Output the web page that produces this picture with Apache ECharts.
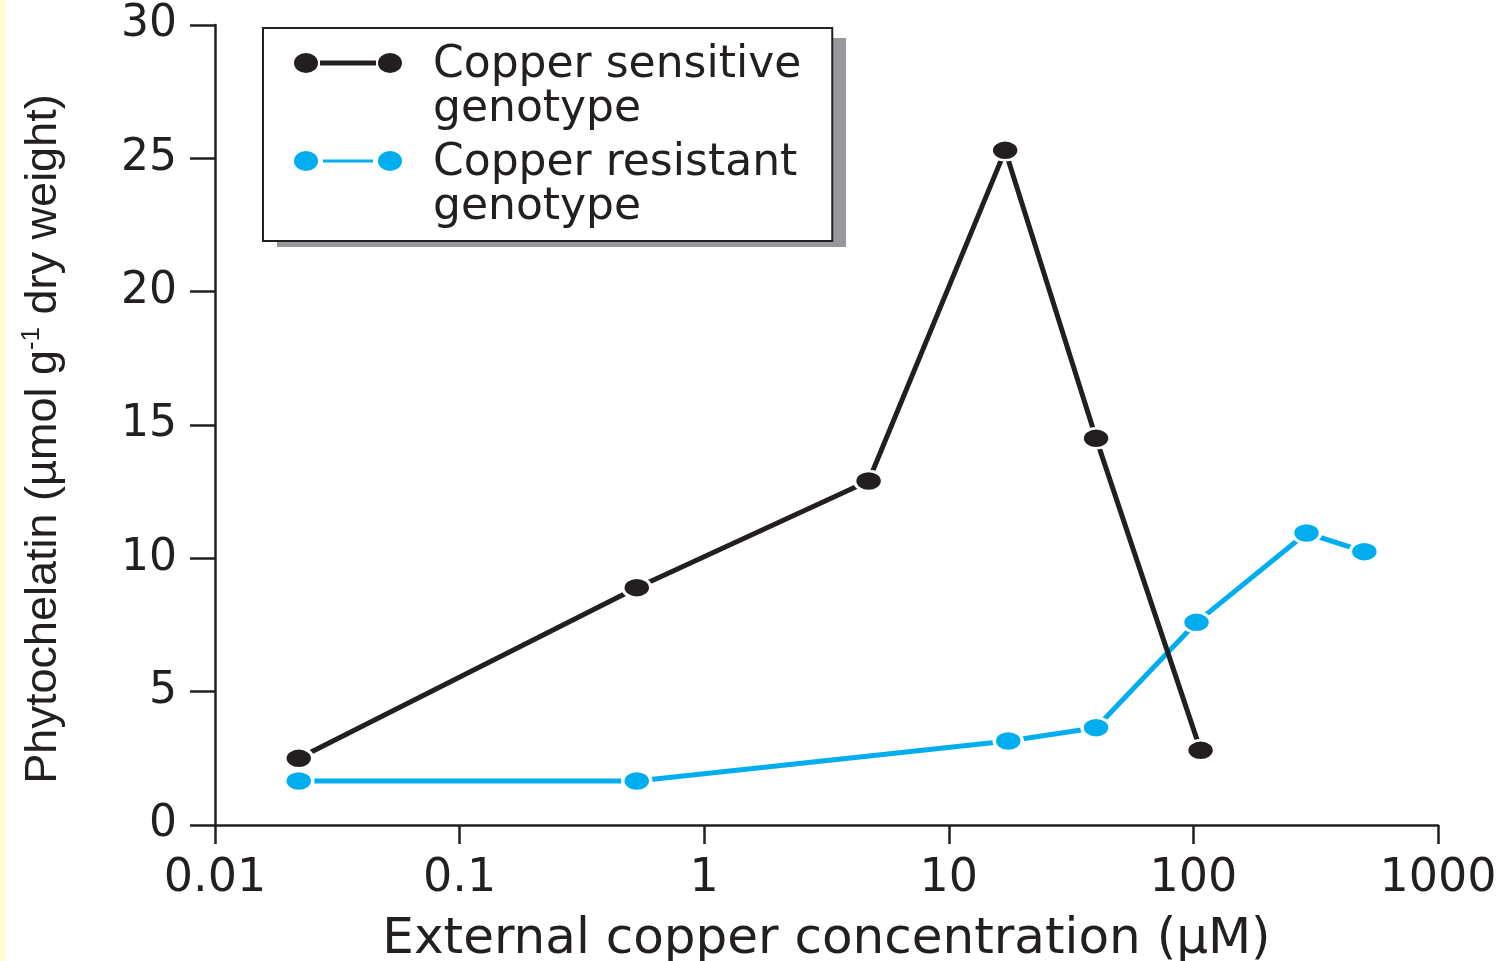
<!DOCTYPE html>
<html>
<head>
<meta charset="utf-8">
<script src="https://cdn.jsdelivr.net/npm/echarts@6/dist/echarts.min.js"></script>
<style>
  html, body { margin: 0; padding: 0; background: #ffffff; }
  #chart { position: absolute; left: 0; top: 0; width: 1507px; height: 961px; }
  #edge { position: absolute; left: 0; top: 0; width: 5px; height: 961px; background: #fdfdd0; z-index: 2; }
</style>
</head>
<body>
<div id="chart"></div>
<div id="edge"></div>
<script>
// External copper concentration (µM) and phytochelatin content (µmol g-1 dry weight)
const sensitiveConc = [0.022, 0.53, 4.7, 17, 40, 107];
const sensitivePC   = [2.5, 8.9, 12.9, 25.3, 14.5, 2.8];
const resistantConc = [0.022, 0.53, 17.5, 40, 103, 290, 500];
const resistantPC   = [1.65, 1.65, 3.15, 3.65, 7.6, 10.95, 10.25];

const seriesNames = ['Copper sensitive genotype', 'Copper resistant genotype'];
const xTickLabels = ['0.01', '0.1', '1', '10', '100', '1000'];

const INK = '#231f20';
const CYAN = '#00aeef';

// Legend glyph: dot - bar - dot on the first text line, padded so the label sits after it.
function legendGlyph(bar, gap) {
  const cy = 19;
  const top = cy - bar / 2, bottom = cy + bar / 2;
  return 'path://M0,0 L0.01,0 Z ' +
    'M0,' + cy + ' A13,11 0 1,0 26,' + cy + ' A13,11 0 1,0 0,' + cy + ' Z ' +
    'M84,' + cy + ' A13,11 0 1,0 110,' + cy + ' A13,11 0 1,0 84,' + cy + ' Z ' +
    'M' + (26 + gap) + ',' + top + ' L' + (84 - gap) + ',' + top + ' L' + (84 - gap) + ',' + bottom +
    ' L' + (26 + gap) + ',' + bottom + ' Z ' +
    'M135,88 L134.99,88 Z';
}

const chart = echarts.init(document.getElementById('chart'), null, { renderer: 'canvas' });

chart.setOption({
  animation: false,
  backgroundColor: '#ffffff',
  grid: { left: 215, right: 69, top: 25, bottom: 136, outerBoundsMode: 'none', containLabel: false },
  // drop shadow behind the legend box
  graphic: [{
    type: 'rect',
    left: 277,
    top: 38,
    shape: { width: 569, height: 209 },
    style: { fill: '#97989b' },
    z: 0,
    silent: true
  }],
  legend: {
    orient: 'vertical',
    left: 263,
    top: 28,
    padding: [15, 31, 10, 29],
    itemGap: 8,
    itemWidth: 135,
    itemHeight: 88,
    backgroundColor: '#ffffff',
    borderColor: INK,
    borderWidth: 2,
    borderRadius: 0,
    selectedMode: false,
    z: 5,
    textStyle: { fontFamily: 'DejaVu Sans', fontSize: 44, lineHeight: 44, color: INK },
    formatter: name => name.replace(' genotype', '\ngenotype'),
    data: [
      { name: seriesNames[0], icon: legendGlyph(7, 0) },
      { name: seriesNames[1], icon: legendGlyph(5, 3) }
    ]
  },
  xAxis: {
    type: 'log',
    logBase: 10,
    min: 0.01,
    max: 1000,
    axisLine: { show: true, lineStyle: { color: INK, width: 2.5 } },
    axisTick: { show: true, length: 19, lineStyle: { color: INK, width: 2.5 } },
    minorTick: { show: false },
    splitLine: { show: false },
    axisLabel: {
      margin: 31,
      fontFamily: 'DejaVu Sans',
      fontSize: 46,
      color: INK,
      formatter: v => xTickLabels[Math.round(Math.log10(v)) + 2]
    },
    name: 'External copper concentration (µM)',
    nameLocation: 'middle',
    nameGap: 90,
    nameMoveOverlap: false,
    nameTextStyle: { fontFamily: 'DejaVu Sans', fontSize: 50, color: INK }
  },
  yAxis: {
    type: 'value',
    min: 0,
    max: 30,
    interval: 5,
    axisLine: { show: true, lineStyle: { color: INK, width: 2.5 } },
    axisTick: { show: true, length: 25, lineStyle: { color: INK, width: 2.5 } },
    splitLine: { show: false },
    axisLabel: { margin: 38, fontFamily: 'DejaVu Sans', fontSize: 44, color: INK },
    name: '{a|Phytochelatin (µmol g}{s|-1}{a| dry weight)}',
    nameLocation: 'middle',
    nameGap: 146,
    nameMoveOverlap: false,
    nameTextStyle: {
      padding: [0, 28, 0, 0],
      rich: {
        a: { fontFamily: 'Liberation Sans', fontSize: 45, lineHeight: 50, color: INK },
        s: { fontFamily: 'Liberation Sans', fontSize: 26, lineHeight: 50, verticalAlign: 'top', color: INK }
      }
    }
  },
  series: [
    {
      name: seriesNames[1],
      type: 'line',
      data: resistantConc.map((c, i) => [c, resistantPC[i]]),
      symbol: 'circle',
      symbolSize: [28, 20],
      lineStyle: { color: CYAN, width: 5 },
      itemStyle: { color: CYAN, borderColor: '#ffffff', borderWidth: 3 },
      z: 2
    },
    {
      name: seriesNames[0],
      type: 'line',
      data: sensitiveConc.map((c, i) => [c, sensitivePC[i]]),
      symbol: 'circle',
      symbolSize: [28, 20],
      lineStyle: { color: INK, width: 5 },
      itemStyle: { color: INK, borderColor: '#ffffff', borderWidth: 3 },
      z: 3
    }
  ]
});
</script>
</body>
</html>
